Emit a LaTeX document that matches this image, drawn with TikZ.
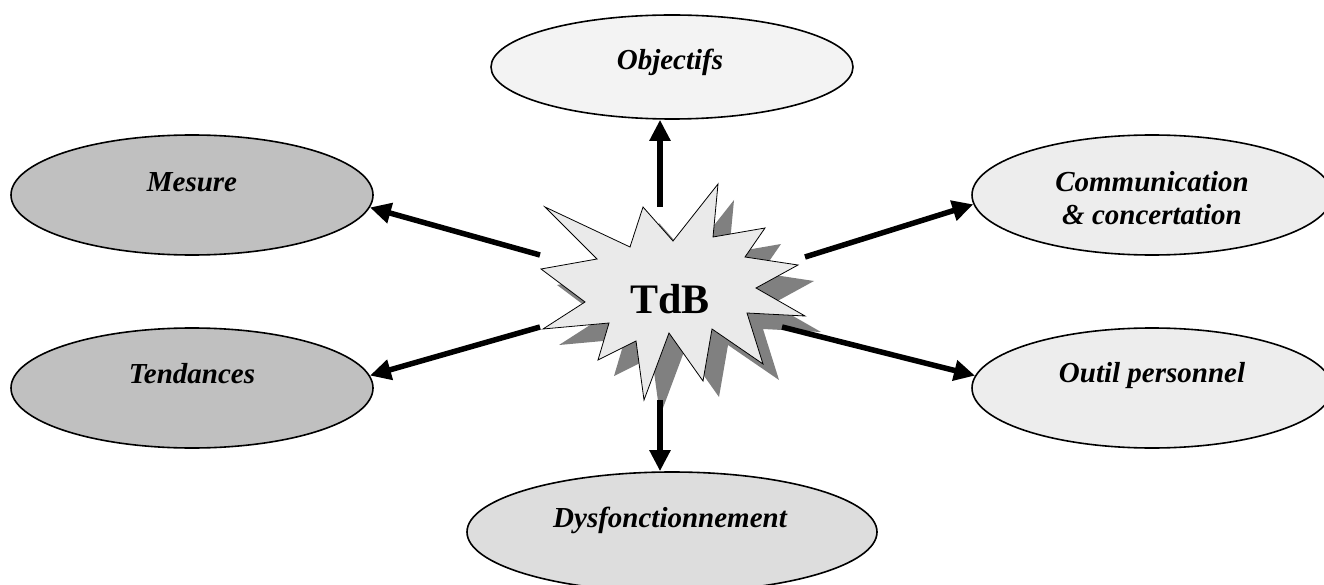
\documentclass[tikz,border=0pt]{standalone}
\usepackage{fontspec}
\setmainfont{Liberation Serif}
\usetikzlibrary{shapes.geometric,arrows.meta}
\definecolor{darkfill}{HTML}{C0C0C0}
\definecolor{midfill}{HTML}{DDDDDD}
\definecolor{lightfill}{HTML}{EDEDED}
\definecolor{palefill}{HTML}{F3F3F3}
\definecolor{starfill}{HTML}{EAEAEA}
\definecolor{starshadow}{HTML}{808080}
\tikzset{
  burst/.pic={
    \path[pic actions] (545,207) -- (630,247) -- (643,207) -- (673,241)
      -- (718,184) -- (713,237) -- (765,228) -- (745,257) -- (798,265)
      -- (756,288) -- (805,316) -- (747,313) -- (763,364) -- (712,329)
      -- (703,381) -- (669,333) -- (644,400) -- (636,341) -- (598,360)
      -- (609,323) -- (543,329) -- (585,302) -- (541,269) -- (597,259)
      -- cycle;
  }
}
\begin{document}
\begin{tikzpicture}[x=1pt,y=-1pt,
  bubble/.style={ellipse,draw=black,line width=1.6pt,inner sep=0pt,
    minimum width=362pt,minimum height=120pt},
  lbl/.style={font=\bfseries\itshape\fontsize{29}{33}\selectfont,
    align=center,inner sep=0pt},
  link/.style={line width=5.5pt,-{Triangle[length=21pt,width=20pt]}}]
\useasboundingbox (0,0) rectangle (1324,585);
\clip (0,0) rectangle (1324,585);

% outer topics
\node[bubble,fill=palefill,minimum height=104pt] (obj) at (672,67) {};
\node[bubble,fill=darkfill] (mes) at (192,195) {};
\node[bubble,fill=darkfill] (ten) at (192,388) {};
\node[bubble,fill=lightfill,minimum width=360pt] (com) at (1152,195) {};
\node[bubble,fill=lightfill,minimum width=360pt] (out) at (1152,388) {};
\node[bubble,fill=midfill,minimum width=410pt] (dys) at (672,532) {};

\node[lbl,anchor=base] (tobj) at (670,70) {Objectifs};
\node[lbl,anchor=base] (tmes) at (192,192) {Mesure};
\node[lbl,anchor=base] (tten) at (192,383) {Tendances};
\node[lbl] (tcom) at (1152,198) {Communication\\\& concertation};
\node[lbl,anchor=base] (tout) at (1152,382) {Outil personnel};
\node[lbl,anchor=base] (tdys) at (670,527) {Dysfonctionnement};

% central burst with its drop shadow
\pic[fill=starshadow] at (16,16) {burst};
\pic[fill=starfill,draw=black,line width=0.8pt] at (0,0) {burst};
\node[font=\bfseries\fontsize{42}{48}\selectfont,anchor=base,inner sep=0pt]
  (tdb) at (670,313) {TdB};

% arrow starts around the burst
\coordinate (sTop) at (660,207);
\coordinate (sBot) at (660,400);
\coordinate (sMes) at (540,255);
\coordinate (sTen) at (540,327);
\coordinate (sCom) at (805,257);
\coordinate (sOut) at (782,327);

\draw[link] (sTop) -- (sTop |- obj.south);
\draw[link] (sBot) -- (sBot |- dys.north);
\draw[link] (sMes) -- (mes.-4);
\draw[link] (sTen) -- (ten.4);
\draw[link] (sCom) -- (com.183);
\draw[link] (sOut) -- (out.176);
\end{tikzpicture}
\end{document}
